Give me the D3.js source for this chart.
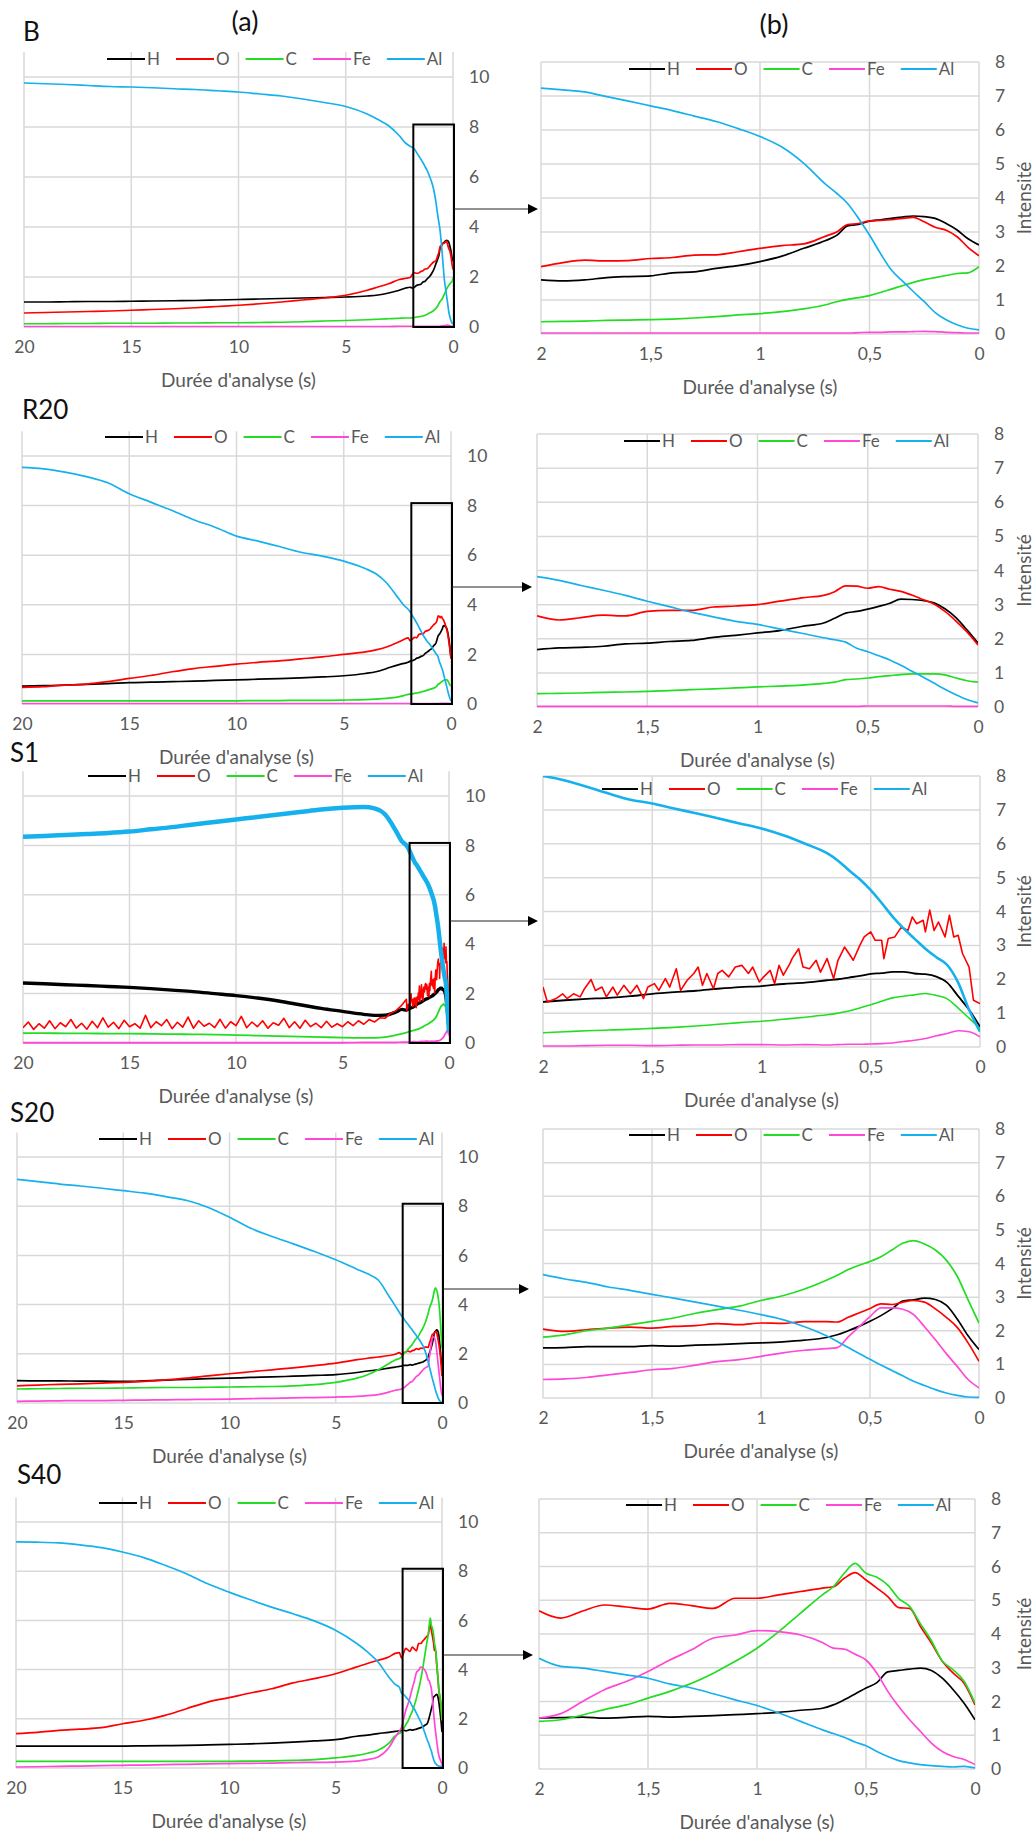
<!DOCTYPE html>
<html><head><meta charset="utf-8">
<script src="https://cdn.jsdelivr.net/npm/d3@7"></script>
<style>
body{margin:0;background:#fff}
svg{display:block}
text{font-family:Lato,"Open Sans",sans-serif}
</style>
</head><body>
<svg id="c" width="1036" height="1832"></svg>
<script>
// ---------------- DATA ----------------
const elements = ["H","O","C","Fe","Al"];
const leftXTicks = [20,15,10,5,0];
const leftYTicks = [0,2,4,6,8,10];
const rightXTicks = [2,1.5,1,0.5,0];
const rightYTicks = [0,1,2,3,4,5,6,7,8];
const rowLabels = ["B","R20","S1","S20","S40"];

const tFar  = [20,19,18,17,16,15,14,13,12,11,10,9,8,7,6,5,4,3.5,3,2.5,2.2];
const tZoom = [2,1.9,1.8,1.7,1.6,1.5,1.4,1.3,1.2,1.1,1,0.9,0.8,0.7,0.65,0.6,0.55,0.5,0.45,0.4,0.35,0.3,0.25,0.2,0.15,0.1,0.05,0];

// B
const B_far_H  = [1.0,1.0,1.01,1.02,1.02,1.03,1.04,1.05,1.06,1.08,1.1,1.12,1.14,1.16,1.18,1.2,1.24,1.28,1.36,1.47,1.56];
const B_far_O  = [0.56,0.58,0.6,0.62,0.64,0.67,0.7,0.73,0.77,0.82,0.87,0.93,1.0,1.08,1.16,1.27,1.47,1.6,1.73,1.9,1.95];
const B_far_C  = [0.13,0.13,0.14,0.14,0.15,0.15,0.15,0.16,0.16,0.17,0.17,0.18,0.19,0.21,0.24,0.26,0.29,0.31,0.33,0.35,0.36];
const B_far_Fe = [0.02,0.02,0.02,0.02,0.02,0.02,0.02,0.02,0.02,0.02,0.02,0.02,0.02,0.02,0.02,0.02,0.02,0.02,0.02,0.03,0.03];
const B_far_Al = [9.76,9.73,9.7,9.66,9.62,9.6,9.57,9.53,9.5,9.45,9.4,9.32,9.24,9.12,8.98,8.82,8.52,8.3,8.05,7.65,7.35];
const B_zoom_H  = [1.59,1.56,1.59,1.66,1.69,1.71,1.8,1.83,1.93,2.01,2.13,2.29,2.52,2.75,2.9,3.18,3.22,3.32,3.36,3.4,3.44,3.47,3.45,3.4,3.25,3.06,2.8,2.62];
const B_zoom_O  = [1.98,2.1,2.17,2.15,2.16,2.22,2.25,2.32,2.33,2.42,2.52,2.6,2.65,2.88,3.0,3.22,3.25,3.33,3.34,3.36,3.4,3.43,3.3,3.14,3.05,2.86,2.55,2.3];
const B_zoom_C  = [0.36,0.37,0.38,0.4,0.41,0.42,0.44,0.47,0.51,0.56,0.6,0.66,0.74,0.86,0.95,1.02,1.07,1.13,1.22,1.32,1.42,1.52,1.6,1.66,1.72,1.78,1.8,1.98];
const B_zoom_Fe = [0.03,0.03,0.03,0.03,0.03,0.03,0.03,0.03,0.03,0.03,0.03,0.03,0.03,0.03,0.03,0.03,0.04,0.05,0.05,0.06,0.06,0.07,0.08,0.07,0.05,0.04,0.03,0.03];
const B_zoom_Al = [7.23,7.18,7.12,6.98,6.85,6.71,6.57,6.41,6.25,6.04,5.81,5.5,5.02,4.4,4.14,3.84,3.4,2.91,2.37,1.88,1.56,1.25,0.95,0.63,0.42,0.27,0.17,0.12];

// R20
const R20_far_H  = [0.72,0.74,0.76,0.79,0.82,0.86,0.88,0.9,0.92,0.95,0.97,1.0,1.02,1.05,1.09,1.14,1.23,1.3,1.43,1.57,1.64];
const R20_far_O  = [0.67,0.7,0.76,0.8,0.9,1.03,1.15,1.3,1.43,1.52,1.61,1.68,1.74,1.82,1.9,2.0,2.1,2.18,2.3,2.48,2.6];
const R20_far_C  = [0.13,0.13,0.13,0.13,0.13,0.13,0.13,0.13,0.13,0.13,0.13,0.14,0.14,0.15,0.15,0.16,0.18,0.2,0.23,0.28,0.34];
const R20_far_Fe = [0.02,0.02,0.02,0.02,0.02,0.02,0.02,0.02,0.02,0.02,0.02,0.02,0.02,0.02,0.02,0.02,0.02,0.02,0.02,0.02,0.02];
const R20_far_Al = [9.54,9.48,9.35,9.17,8.92,8.48,8.14,7.8,7.43,7.13,6.77,6.57,6.35,6.12,5.96,5.76,5.46,5.25,4.88,4.32,3.98];
const R20_zoom_H  = [1.68,1.73,1.75,1.78,1.85,1.87,1.92,1.95,2.04,2.1,2.17,2.24,2.36,2.46,2.6,2.75,2.8,2.87,2.95,3.04,3.16,3.15,3.12,3.05,2.88,2.62,2.26,1.87];
const R20_zoom_O  = [2.67,2.55,2.62,2.69,2.67,2.8,2.83,2.83,2.93,2.96,3.0,3.1,3.2,3.27,3.38,3.55,3.54,3.48,3.53,3.45,3.39,3.28,3.15,3.02,2.8,2.52,2.2,1.82];
const R20_zoom_C  = [0.39,0.4,0.41,0.43,0.44,0.46,0.48,0.51,0.53,0.56,0.59,0.61,0.64,0.69,0.73,0.8,0.82,0.85,0.89,0.92,0.95,0.97,0.97,0.97,0.94,0.85,0.77,0.73];
const R20_zoom_Fe = [0.02,0.02,0.02,0.02,0.02,0.02,0.02,0.02,0.02,0.02,0.02,0.02,0.02,0.02,0.02,0.02,0.02,0.03,0.03,0.03,0.03,0.03,0.03,0.03,0.03,0.02,0.02,0.02];
const R20_zoom_Al = [3.82,3.71,3.56,3.42,3.27,3.1,2.94,2.78,2.64,2.51,2.42,2.29,2.16,2.03,1.97,1.9,1.72,1.62,1.5,1.38,1.22,1.05,0.88,0.7,0.52,0.36,0.22,0.12];

// S1
const S1_far_H  = [2.43,2.4,2.36,2.33,2.29,2.25,2.2,2.14,2.08,2.0,1.92,1.82,1.7,1.55,1.4,1.28,1.16,1.12,1.13,1.25,1.36];
const S1_far_C  = [0.4,0.4,0.39,0.39,0.38,0.38,0.37,0.36,0.35,0.34,0.32,0.3,0.28,0.26,0.24,0.22,0.21,0.21,0.24,0.32,0.38];
const S1_far_Fe = [0.01,0.01,0.01,0.01,0.01,0.01,0.01,0.01,0.01,0.01,0.01,0.01,0.01,0.01,0.01,0.01,0.02,0.02,0.02,0.02,0.03];
const S1_far_Al = [8.35,8.38,8.42,8.46,8.5,8.56,8.65,8.74,8.85,8.95,9.05,9.15,9.25,9.35,9.45,9.52,9.55,9.5,9.25,8.6,8.15];
const S1_far_tO = [20,19.75,19.5,19.25,19,18.75,18.5,18.25,18,17.75,
  17.5,17.25,17,16.75,16.5,16.25,16,15.75,15.5,15.25,
  15,14.75,14.5,14.25,14,13.75,13.5,13.25,13,12.75,
  12.5,12.25,12,11.75,11.5,11.25,11,10.75,10.5,10.25,
  10,9.75,9.5,9.25,9,8.75,8.5,8.25,8,7.75,
  7.5,7.25,7,6.75,6.5,6.25,6,5.75,5.5,5.25,
  5,4.75,4.5,4.25,4,3.75,3.5,3.25,3,2.75,
  2.5,2.25];
const S1_far_O = [0.62,0.85,0.55,0.78,0.6,0.9,0.58,0.82,0.66,0.95,
  0.6,0.8,0.56,0.88,0.62,1.02,0.64,0.84,0.58,0.92,
  0.66,0.78,0.6,1.12,0.62,0.86,0.7,0.95,0.58,0.84,
  0.64,1.05,0.6,0.9,0.68,0.8,0.62,0.96,0.6,0.86,
  0.7,1.08,0.62,0.85,0.66,0.9,0.6,0.82,0.72,1.0,
  0.62,0.86,0.6,0.92,0.66,0.8,0.62,0.88,0.64,0.78,
  0.66,0.86,0.7,0.9,0.76,0.95,0.85,1.02,1.0,1.2,
  1.3,1.5];
const S1_zoom_H  = [1.33,1.38,1.42,1.45,1.5,1.57,1.62,1.66,1.72,1.77,1.8,1.86,1.9,1.97,2.0,2.05,2.1,2.16,2.18,2.22,2.22,2.17,2.15,2.08,1.9,1.5,1.1,0.6];
const S1_zoom_C  = [0.42,0.45,0.48,0.5,0.52,0.55,0.58,0.62,0.67,0.72,0.76,0.82,0.88,0.95,1.0,1.06,1.15,1.25,1.35,1.45,1.5,1.54,1.58,1.52,1.42,1.15,0.85,0.55];
const S1_zoom_Fe = [0.03,0.03,0.04,0.05,0.05,0.04,0.05,0.06,0.06,0.07,0.07,0.06,0.07,0.06,0.07,0.08,0.08,0.09,0.1,0.12,0.16,0.2,0.25,0.33,0.4,0.48,0.45,0.3];
const S1_zoom_Al = [8.0,7.87,7.68,7.48,7.3,7.19,7.04,6.9,6.75,6.6,6.45,6.25,6.0,5.72,5.5,5.22,4.95,4.63,4.25,3.85,3.5,3.2,2.9,2.65,2.42,1.9,1.1,0.45];
const S1_zoom_tO = [2.0,1.98,1.94,1.91,1.89,1.86,1.83,1.81,1.78,1.76,1.73,1.71,1.68,1.66,1.63,1.6,1.57,1.54,1.52,1.49,
  1.47,1.44,1.42,1.39,1.37,1.34,1.31,1.29,1.27,1.25,1.22,1.2,1.18,1.15,1.12,1.09,1.06,1.04,1.01,0.99,
  0.96,0.94,0.92,0.9,0.87,0.86,0.83,0.81,0.78,0.75,0.73,0.7,0.67,0.65,0.62,0.6,0.58,0.55,0.53,0.5,
  0.48,0.45,0.44,0.42,0.39,0.36,0.33,0.31,0.29,0.26,0.25,0.23,0.21,0.19,0.16,0.14,0.12,0.1,0.08,0.05,
  0.03,0];
const S1_zoom_O = [1.77,1.33,1.43,1.57,1.43,1.57,1.48,1.72,1.99,1.67,1.77,1.48,1.77,1.53,1.82,1.57,1.82,1.43,1.77,1.87,
  1.67,2.02,1.77,2.31,1.67,1.97,2.17,2.36,1.82,2.17,1.72,2.17,2.26,2.07,2.36,2.41,2.17,2.36,1.92,2.07,
  2.26,1.87,2.41,2.12,2.46,2.61,2.9,2.36,2.31,2.56,2.21,2.61,2.02,2.56,2.95,2.76,2.56,3.0,3.25,3.4,
  3.15,3.15,2.61,3.2,3.25,3.54,3.44,3.84,3.64,3.74,3.4,4.04,3.44,3.69,3.25,3.89,3.25,3.3,2.76,2.36,
  1.38,1.28];

// S20
const S20_far_H  = [0.91,0.9,0.9,0.89,0.89,0.88,0.9,0.93,0.96,0.99,1.01,1.04,1.06,1.09,1.12,1.15,1.24,1.3,1.35,1.42,1.46];
const S20_far_O  = [0.7,0.73,0.76,0.78,0.81,0.84,0.88,0.94,1.01,1.1,1.19,1.27,1.35,1.43,1.52,1.62,1.76,1.82,1.87,1.93,1.98];
const S20_far_C  = [0.57,0.58,0.59,0.6,0.6,0.61,0.62,0.63,0.63,0.64,0.65,0.66,0.67,0.7,0.75,0.84,1.01,1.15,1.35,1.6,1.75];
const S20_far_Fe = [0.07,0.08,0.09,0.1,0.1,0.11,0.12,0.13,0.14,0.15,0.16,0.18,0.19,0.21,0.22,0.24,0.27,0.3,0.34,0.44,0.52];
const S20_far_Al = [9.09,9.0,8.9,8.82,8.73,8.63,8.53,8.39,8.23,7.95,7.55,7.1,6.77,6.47,6.16,5.82,5.44,5.25,5.0,4.35,3.95];
const S20_zoom_H  = [1.49,1.5,1.53,1.53,1.53,1.56,1.54,1.57,1.59,1.62,1.64,1.67,1.72,1.8,1.88,2.0,2.13,2.28,2.45,2.65,2.88,2.92,2.97,2.93,2.76,2.35,1.85,1.44];
const S20_zoom_O  = [2.05,1.98,2.03,2.08,2.11,2.08,2.13,2.15,2.21,2.18,2.23,2.22,2.27,2.27,2.26,2.4,2.53,2.66,2.8,2.78,2.85,2.9,2.85,2.65,2.4,2.1,1.64,1.09];
const S20_zoom_C  = [1.81,1.88,2.0,2.08,2.18,2.28,2.38,2.52,2.63,2.73,2.9,3.04,3.24,3.5,3.65,3.82,3.95,4.06,4.2,4.4,4.6,4.68,4.58,4.4,4.1,3.62,2.92,2.23];
const S20_zoom_Fe = [0.55,0.57,0.61,0.69,0.76,0.84,0.88,0.98,1.08,1.14,1.24,1.34,1.42,1.47,1.5,1.82,2.12,2.42,2.68,2.68,2.64,2.48,2.12,1.73,1.32,0.94,0.55,0.3];
const S20_zoom_Al = [3.67,3.54,3.44,3.3,3.2,3.08,2.97,2.85,2.73,2.61,2.48,2.33,2.12,1.85,1.68,1.5,1.32,1.15,0.98,0.82,0.66,0.5,0.37,0.25,0.15,0.08,0.03,0.02];

// S40
const S40_far_H  = [0.89,0.89,0.89,0.89,0.89,0.89,0.9,0.91,0.92,0.94,0.96,0.98,1.01,1.05,1.1,1.15,1.29,1.34,1.4,1.45,1.49];
const S40_far_O  = [1.4,1.45,1.53,1.58,1.64,1.8,1.94,2.14,2.41,2.68,2.86,3.05,3.22,3.46,3.63,3.83,4.11,4.25,4.38,4.51,4.66];
const S40_far_C  = [0.27,0.27,0.27,0.27,0.27,0.27,0.27,0.27,0.27,0.27,0.27,0.28,0.29,0.31,0.34,0.41,0.51,0.6,0.72,1.0,1.3];
const S40_far_Fe = [0.04,0.05,0.07,0.08,0.1,0.11,0.12,0.14,0.15,0.17,0.18,0.19,0.2,0.22,0.23,0.24,0.28,0.34,0.45,0.82,1.25];
const S40_far_Al = [9.19,9.18,9.15,9.07,8.96,8.78,8.55,8.24,7.9,7.49,7.15,6.84,6.54,6.27,5.98,5.6,5.06,4.72,4.31,3.7,3.4];
const S40_zoom_H  = [1.51,1.52,1.54,1.51,1.53,1.56,1.54,1.56,1.58,1.61,1.64,1.68,1.74,1.8,1.9,2.05,2.22,2.4,2.56,2.88,2.92,2.96,2.99,2.92,2.69,2.35,1.95,1.46];
const S40_zoom_O  = [4.69,4.47,4.68,4.86,4.8,4.74,4.91,4.84,4.76,5.06,5.06,5.16,5.26,5.36,5.4,5.65,5.82,5.6,5.36,5.11,4.78,4.76,4.22,3.73,3.19,2.84,2.54,1.9];
const S40_zoom_C  = [1.41,1.46,1.6,1.76,1.9,2.1,2.3,2.54,2.84,3.19,3.58,4.07,4.62,5.16,5.4,5.8,6.09,5.8,5.68,5.45,5.05,4.82,4.3,3.8,3.2,2.94,2.6,1.95];
const S40_zoom_Fe = [1.51,1.64,2.0,2.35,2.59,2.89,3.23,3.53,3.88,3.97,4.1,4.07,3.97,3.75,3.58,3.55,3.4,3.23,2.84,2.3,1.85,1.46,1.11,0.77,0.52,0.37,0.28,0.13];
const S40_zoom_Al = [3.28,3.04,2.99,2.89,2.79,2.69,2.52,2.4,2.23,2.05,1.88,1.66,1.41,1.16,1.05,0.94,0.8,0.69,0.52,0.37,0.25,0.18,0.13,0.1,0.08,0.06,0.08,0.03];

// ---------------- BUILD SERIES ----------------
function pairs(ts, vs){ return ts.map((t,i)=>[t, vs[i]]); }
function std(far, zoom){ return {far: pairs(tFar, far), zoom: pairs(tZoom, zoom)}; }
const datasets = [
  {H:std(B_far_H,B_zoom_H), O:std(B_far_O,B_zoom_O), C:std(B_far_C,B_zoom_C), Fe:std(B_far_Fe,B_zoom_Fe), Al:std(B_far_Al,B_zoom_Al)},
  {H:std(R20_far_H,R20_zoom_H), O:std(R20_far_O,R20_zoom_O), C:std(R20_far_C,R20_zoom_C), Fe:std(R20_far_Fe,R20_zoom_Fe), Al:std(R20_far_Al,R20_zoom_Al)},
  {H:std(S1_far_H,S1_zoom_H), O:{far:pairs(S1_far_tO,S1_far_O), zoom:pairs(S1_zoom_tO,S1_zoom_O)}, C:std(S1_far_C,S1_zoom_C), Fe:std(S1_far_Fe,S1_zoom_Fe), Al:std(S1_far_Al,S1_zoom_Al)},
  {H:std(S20_far_H,S20_zoom_H), O:std(S20_far_O,S20_zoom_O), C:std(S20_far_C,S20_zoom_C), Fe:std(S20_far_Fe,S20_zoom_Fe), Al:std(S20_far_Al,S20_zoom_Al)},
  {H:std(S40_far_H,S40_zoom_H), O:std(S40_far_O,S40_zoom_O), C:std(S40_far_C,S40_zoom_C), Fe:std(S40_far_Fe,S40_zoom_Fe), Al:std(S40_far_Al,S40_zoom_Al)}
];

// ---------------- LAYOUT / STYLE ----------------
const colors = {H:"#000000", O:"#ff0000", C:"#22dd22", Fe:"#ff48d6", Al:"#16b1ec"};
const gray = "#595959", grid = "#d9d9d9";
const layout = [
  {lx:23, ly:32,   L:[24,453,327,25],   R:[541,979,334,62],    legL:[107,59],   legR:[629,69],   arrowY:209,  tip:538},
  {lx:22, ly:410,  L:[22,451,704,24.8], R:[537,978,707,434],   legL:[105,437],  legR:[624,441],  arrowY:587,  tip:532},
  {lx:10, ly:753,  L:[23,449,1043,24.7],R:[543,980,1047,776],  legL:[88,776],   legR:[602,789],  arrowY:921,  tip:538},
  {lx:10, ly:1113, L:[17,442,1403,24.6],R:[543,979,1398,1129], legL:[99,1139],  legR:[629,1135], arrowY:1289, tip:529},
  {lx:17, ly:1475, L:[16,442,1768,24.6],R:[539,975,1769,1499], legL:[99,1503],  legR:[626,1505], arrowY:1655, tip:533}
];
const widthsFor = (row, side, el) => {
  if (row === 2) {
    if (side === "L") return {Al:4.5, H:3.4, O:1.6}[el] || 1.8;
    return {Al:2.6, H:1.8}[el] || 1.6;
  }
  return 1.7;
};

const svg = d3.select("#c");
const fmtComma = d => String(d).replace(".", ",");

function drawLegend(g, x, y, lineLen){
  let cx = x;
  elements.forEach(el => {
    g.append("line").attr("x1",cx).attr("x2",cx+lineLen).attr("y1",y).attr("y2",y)
      .attr("stroke",colors[el]).attr("stroke-width",2);
    const t = g.append("text").attr("x",cx+lineLen+2).attr("y",y).attr("dy","0.35em")
      .attr("font-size",17).attr("fill",gray).text(el);
    cx += lineLen + 2 + t.node().getComputedTextLength() + 16;
  });
}

function drawPanel(rowIdx, side){
  const lay = layout[rowIdx];
  const isL = side === "L";
  const [x0,x1,y0,p] = isL ? lay.L : lay.R;
  const xs = d3.scaleLinear().domain(isL ? [20,0] : [2,0]).range([x0,x1]);
  const ymax = isL ? 11 : 8;
  const ys = isL ? d3.scaleLinear().domain([0,11]).range([y0, y0 - 11*p])
                 : d3.scaleLinear().domain([0,8]).range([y0, p]);
  const g = svg.append("g");
  const xt = isL ? leftXTicks : rightXTicks;
  const yt = isL ? leftYTicks : rightYTicks;
  // grid
  g.selectAll(".hg").data(yt).join("line")
    .attr("x1",x0).attr("x2",x1).attr("y1",d=>ys(d)).attr("y2",d=>ys(d))
    .attr("stroke",grid).attr("stroke-width",1.5);
  g.selectAll(".vg").data(xt).join("line")
    .attr("x1",d=>xs(d)).attr("x2",d=>xs(d)).attr("y1",ys(0)).attr("y2",ys(ymax))
    .attr("stroke",grid).attr("stroke-width",1.5);
  // y axis labels (right side)
  const yAxis = d3.axisRight(ys).tickValues(yt).tickSize(0).tickPadding(16);
  const ya = g.append("g").attr("transform",`translate(${x1},0)`).call(yAxis);
  ya.select(".domain").remove();
  ya.selectAll("text").attr("font-size",17.5).attr("fill",gray).attr("font-family","Lato");
  // x axis labels
  const xAxis = d3.axisBottom(xs).tickValues(xt).tickSize(0).tickPadding(14)
    .tickFormat(isL ? d3.format("d") : fmtComma);
  const xa = g.append("g").attr("transform",`translate(0,${y0})`).call(xAxis);
  xa.select(".domain").remove();
  xa.selectAll("text").attr("font-size",17.5).attr("fill",gray).attr("font-family","Lato");
  // axis title
  g.append("text").attr("x",(x0+x1)/2).attr("y",y0+53).attr("dy","0.35em")
    .attr("text-anchor","middle").attr("font-size",19).attr("fill",gray).text("Durée d'analyse (s)");
  if (!isL) {
    const cy = (ys(0)+ys(8))/2;
    g.append("text").attr("transform",`translate(1024,${cy}) rotate(-90)`)
      .attr("text-anchor","middle").attr("dy","0.35em")
      .attr("font-size",19).attr("fill",gray).text("Intensité");
  }
  // clip
  const cid = `clip${rowIdx}${side}`;
  svg.append("clipPath").attr("id",cid).append("rect")
    .attr("x",x0).attr("y",ys(ymax)).attr("width",x1-x0).attr("height",ys(0)-ys(ymax)+2);
  const line = d3.line().x(d=>xs(d[0])).y(d=>ys(d[1])).curve(d3.curveMonotoneX);
  const lineJag = d3.line().x(d=>xs(d[0])).y(d=>ys(d[1]));
  const lg = g.append("g").attr("clip-path",`url(#${cid})`);
  elements.forEach(el => {
    const s = datasets[rowIdx][el];
    const pts = isL ? s.far.concat(s.zoom) : s.zoom;
    const jag = rowIdx === 2 && el === "O";
    lg.append("path").attr("d",(jag?lineJag:line)(pts)).attr("fill","none")
      .attr("stroke",colors[el]).attr("stroke-width",widthsFor(rowIdx,side,el))
      .attr("stroke-linejoin","round");
  });
  // legend
  const [lx,ly] = isL ? lay.legL : lay.legR;
  drawLegend(g, lx, ly, isL ? 38 : 36);
  if (isL) {
    // zoom box
    g.append("rect").attr("x",xs(1.85)).attr("y",ys(8.1)).attr("width",xs(0)-xs(1.85)+1).attr("height",ys(0)-ys(8.1))
      .attr("fill","none").attr("stroke","#000").attr("stroke-width",2);
    // arrow
    const ay = lay.arrowY;
    g.append("line").attr("x1",xs(0)+1).attr("x2",lay.tip-8).attr("y1",ay).attr("y2",ay)
      .attr("stroke","#222").attr("stroke-width",1);
    g.append("path").attr("d",`M${lay.tip},${ay} L${lay.tip-10},${ay-5} L${lay.tip-10},${ay+5} Z`).attr("fill","#000");
  }
}

for (let r=0;r<5;r++){ drawPanel(r,"L"); drawPanel(r,"R"); }

// row labels and column headers
layout.forEach((lay,i) => {
  svg.append("text").attr("x",lay.lx).attr("y",lay.ly).attr("dy","0.35em")
    .attr("font-size",26).attr("fill","#111").text(rowLabels[i]);
});
svg.append("text").attr("x",245).attr("y",22).attr("dy","0.35em").attr("text-anchor","middle")
  .attr("font-size",27).attr("fill","#111").text("(a)");
svg.append("text").attr("x",774).attr("y",25).attr("dy","0.35em").attr("text-anchor","middle")
  .attr("font-size",27).attr("fill","#111").text("(b)");
</script>
</body></html>
